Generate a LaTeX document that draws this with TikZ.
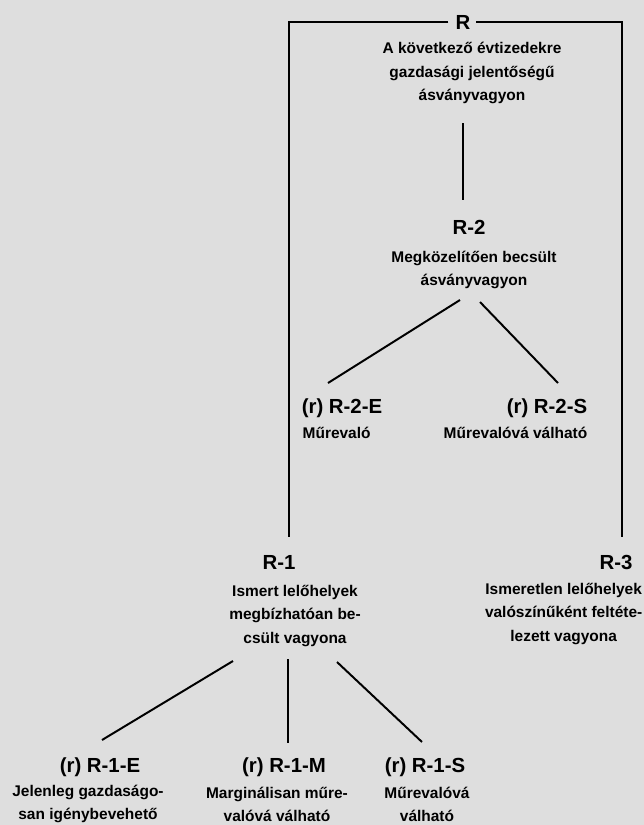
\documentclass[tikz,border=0pt]{standalone}
\usepackage{fontspec}
\setmainfont{Liberation Sans}
\usetikzlibrary{positioning,calc}

\begin{document}
\begin{tikzpicture}[x=0.025cm,y=-0.025cm,
  lab/.style={font=\bfseries\fontsize{14.5}{17}\selectfont,inner sep=2pt},
  desc/.style={font=\bfseries\fontsize{11}{16.5}\selectfont,align=center,inner sep=1pt},
  link/.style={line width=1.4pt}]
\fill[black!13] (0,0) rectangle (644,825);
\useasboundingbox (0,0) rectangle (644,825);
% top of the tree
\node[lab] (R) at (463,22) {R};
\node[desc] (dR) at (472,73) {A következő évtizedekre\\gazdasági jelentőségű\\ásványvagyon};
\node[lab] (R2) at (469,227) {R-2};
\node[desc] (dR2) at (474,270) {Megközelítően becsült\\ásványvagyon};
\node[lab] (R1) at (279,562) {R-1};
\node[desc] (dR1) at (295,616) {Ismert lelőhelyek\\megbízhatóan be-\\csült vagyona};
\node[lab] (R3) at (616,562) {R-3};
\node[desc,anchor=east] (dR3) at (644,614) {Ismeretlen lelőhelyek\\valószínűként feltéte-\\lezett vagyona};
\coordinate (cL) at (289,537);
\coordinate (cR) at (622,537);
% R-2 branches
\node[lab] (R2E) at (342,408) {(r) R-2-E};
\node[desc,anchor=west] (dR2E) at (301,433) {Műrevaló};
\node[lab] (R2S) at (547,408) {(r) R-2-S};
\node[desc,anchor=east] (dR2S) at (589,433) {Műrevalóvá válható};
% R-1 branches
\node[lab] (R1E) at (100,767) {(r) R-1-E};
\node[desc] (dR1E) at (88,804) {Jelenleg gazdaságo-\\san igénybevehető};
\node[lab] (R1M) at (284,767) {(r) R-1-M};
\node[desc] (dR1M) at (277,804) {Marginálisan műre-\\valóvá válható};
\node[lab] (R1S) at (425,767) {(r) R-1-S};
\node[desc] (dR1S) at (427,804) {Műrevalóvá\\válható};
% frame lines
\draw[link] ([xshift=-3pt]R.west) -| (cL);
\draw[link] ([xshift=2pt]R.east) -| (cR);
\draw[link] ($(dR)+(-9,50)$) -- ($(R2)+(-6,-27)$);
% branch lines
\draw[link] ($(dR2)+(-14,30)$) -- ($(R2E)+(-14,-25)$);
\draw[link] ($(dR2)+(6,32)$) -- ($(R2S)+(11,-25)$);
\draw[link] ($(dR1)+(-62,45)$) -- ($(R1E)+(2,-27)$);
\draw[link] ($(dR1)+(-7,43)$) -- ($(R1M)+(4,-24)$);
\draw[link] ($(dR1)+(42,46)$) -- ($(R1S)+(-3,-25)$);
\end{tikzpicture}
\end{document}
